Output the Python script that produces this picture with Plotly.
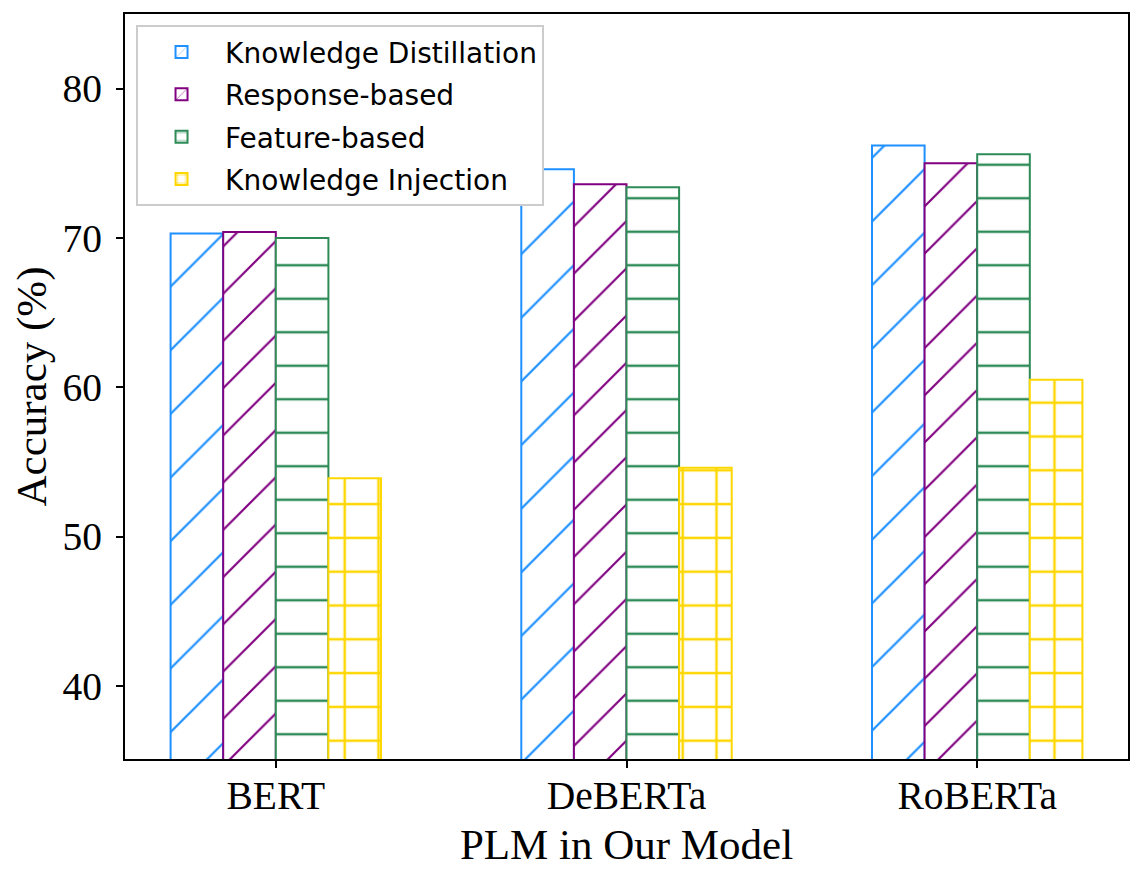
import plotly.graph_objects as go

categories = ["BERT", "DeBERTa", "RoBERTa"]
series_names = ["Knowledge Distillation", "Response-based", "Feature-based", "Knowledge Injection"]
kd_values = [70.3, 74.6, 76.2]
resp_values = [70.4, 73.6, 75.0]
feat_values = [70.0, 73.4, 75.6]
ki_values = [53.9, 54.6, 60.5]
y_ticks = [40, 50, 60, 70, 80]

colors = ["#1E90FF", "#800080", "#2E8B57", "#FFD700"]
patterns = [
    dict(shape="/", size=45, solidity=0.05),
    dict(shape="/", size=33.4, solidity=0.065),
    dict(shape="-", size=33.5, solidity=0.075),
    dict(shape="+", size=33.8, solidity=0.14),
]
values = [kd_values, resp_values, feat_values, ki_values]

fig = go.Figure()
for i, (name, vals) in enumerate(zip(series_names, values)):
    p = patterns[i]
    fig.add_trace(go.Bar(
        x=categories, y=vals, name=name, legendgroup=name,
        marker=dict(
            color="white",
            line=dict(color=colors[i], width=2),
            pattern=dict(shape=p["shape"], size=p["size"], solidity=p["solidity"],
                         fgcolor=colors[i], bgcolor="white", fillmode="replace"),
        ),
    ))

serif = "Liberation Serif, Times New Roman, serif"
axis_font = dict(family=serif, size=39.5, color="black")
fig.update_layout(
    width=1133, height=880,
    margin=dict(l=117, r=13, t=6, b=129),
    paper_bgcolor="white", plot_bgcolor="white",
    barmode="group", bargap=0.4, bargroupgap=0,
    showlegend=True,
    legend=dict(
        x=0.011, y=0.985, xanchor="left", yanchor="top",
        bgcolor="white", bordercolor="#cccccc", borderwidth=2,
        font=dict(family="DejaVu Sans", size=28, color="black"),
        tracegroupgap=3, traceorder="grouped", itemwidth=77,
    ),
    xaxis=dict(
        range=[-0.43, 2.43], showline=True, linecolor="black", linewidth=2, mirror=True,
        ticks="outside", ticklen=7, tickwidth=1.5, tickcolor="black",
        tickfont=axis_font, showgrid=False, automargin=False,
        ticklabelstandoff=-6,
        title=dict(text="PLM in Our Model", font=dict(family=serif, size=43, color="black"), standoff=11),
    ),
    yaxis=dict(
        range=[35.1, 85.0], tickvals=y_ticks, showline=True, linecolor="black", linewidth=2, mirror=True,
        ticks="outside", ticklen=7, tickwidth=1.5, tickcolor="black",
        tickfont=axis_font, showgrid=False, zeroline=False, automargin=False,
        ticklabelstandoff=6,
        title=dict(text="Accuracy (%)", font=dict(family=serif, size=43, color="black"), standoff=10),
    ),
)

fig.write_html("out.html")
